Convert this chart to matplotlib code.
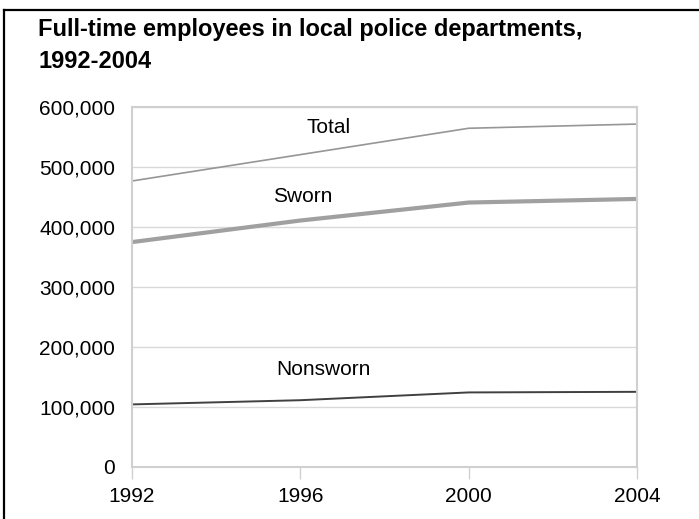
import matplotlib
matplotlib.use("Agg")
import matplotlib.pyplot as plt
from matplotlib.lines import Line2D
from matplotlib.ticker import FuncFormatter

plt.rcParams['font.family'] = ['Liberation Sans', 'DejaVu Sans']

# data
years = [1992, 1996, 2000, 2004]
total = [477000, 521000, 565000, 572000]
sworn = [375000, 411000, 441000, 447000]
nonsworn = [104000, 111000, 124000, 125000]

W, H = 699, 519
fig = plt.figure(figsize=(W / 100, H / 100), dpi=100)
ax = fig.add_axes([132 / W, (H - 466.7) / H, (637 - 132) / W, (466.7 - 107.3) / H])

ax.plot(years, total, color='#969696', lw=1.2, solid_capstyle='butt')
ax.plot(years, sworn, color='#a0a0a0', lw=3.0, solid_capstyle='butt')
ax.plot(years, nonsworn, color='#404040', lw=1.4, solid_capstyle='butt')

ax.text(1996.66, 566700, 'Total', fontsize=15, ha='center', va='center')
ax.text(1996.05, 451700, 'Sworn', fontsize=15, ha='center', va='center')
ax.text(1996.56, 162300, 'Nonsworn', fontsize=15, ha='center', va='center')

ax.set_xlim(1992, 2004)
ax.set_ylim(0, 600000)
ax.set_xticks(years)
ax.set_yticks(range(0, 600001, 100000))
ax.yaxis.set_major_formatter(FuncFormatter(lambda v, p: f'{int(v):,}'))
ax.grid(axis='y', color='#d9d9d9', lw=1.0)
ax.set_axisbelow(True)
for s in ax.spines.values():
    s.set_color('#d0d0d0')
    s.set_linewidth(1.5)
ax.tick_params(axis='y', length=0, pad=12, labelsize=15)
ax.tick_params(axis='x', length=8.5, width=1, color='#d0d0d0', pad=6, labelsize=15)

# title, two lines
fig.text(38 / W, 1 - 36 / H, 'Full-time employees in local police departments,',
         fontsize=17, fontweight='bold', ha='left', va='baseline')
fig.text(38 / W, 1 - 68.5 / H, '1992-2004',
         fontsize=17, fontweight='bold', ha='left', va='baseline')

# black border (left and top)
fig.add_artist(Line2D([4 / W, 4 / W], [0, 1 - 10 / H], color='black', lw=1.6,
                      transform=fig.transFigure, solid_capstyle='projecting'))
fig.add_artist(Line2D([4 / W, 1], [1 - 10 / H, 1 - 10 / H], color='black', lw=1.6,
                      transform=fig.transFigure, solid_capstyle='projecting'))

fig.savefig('out.png', dpi=100)
